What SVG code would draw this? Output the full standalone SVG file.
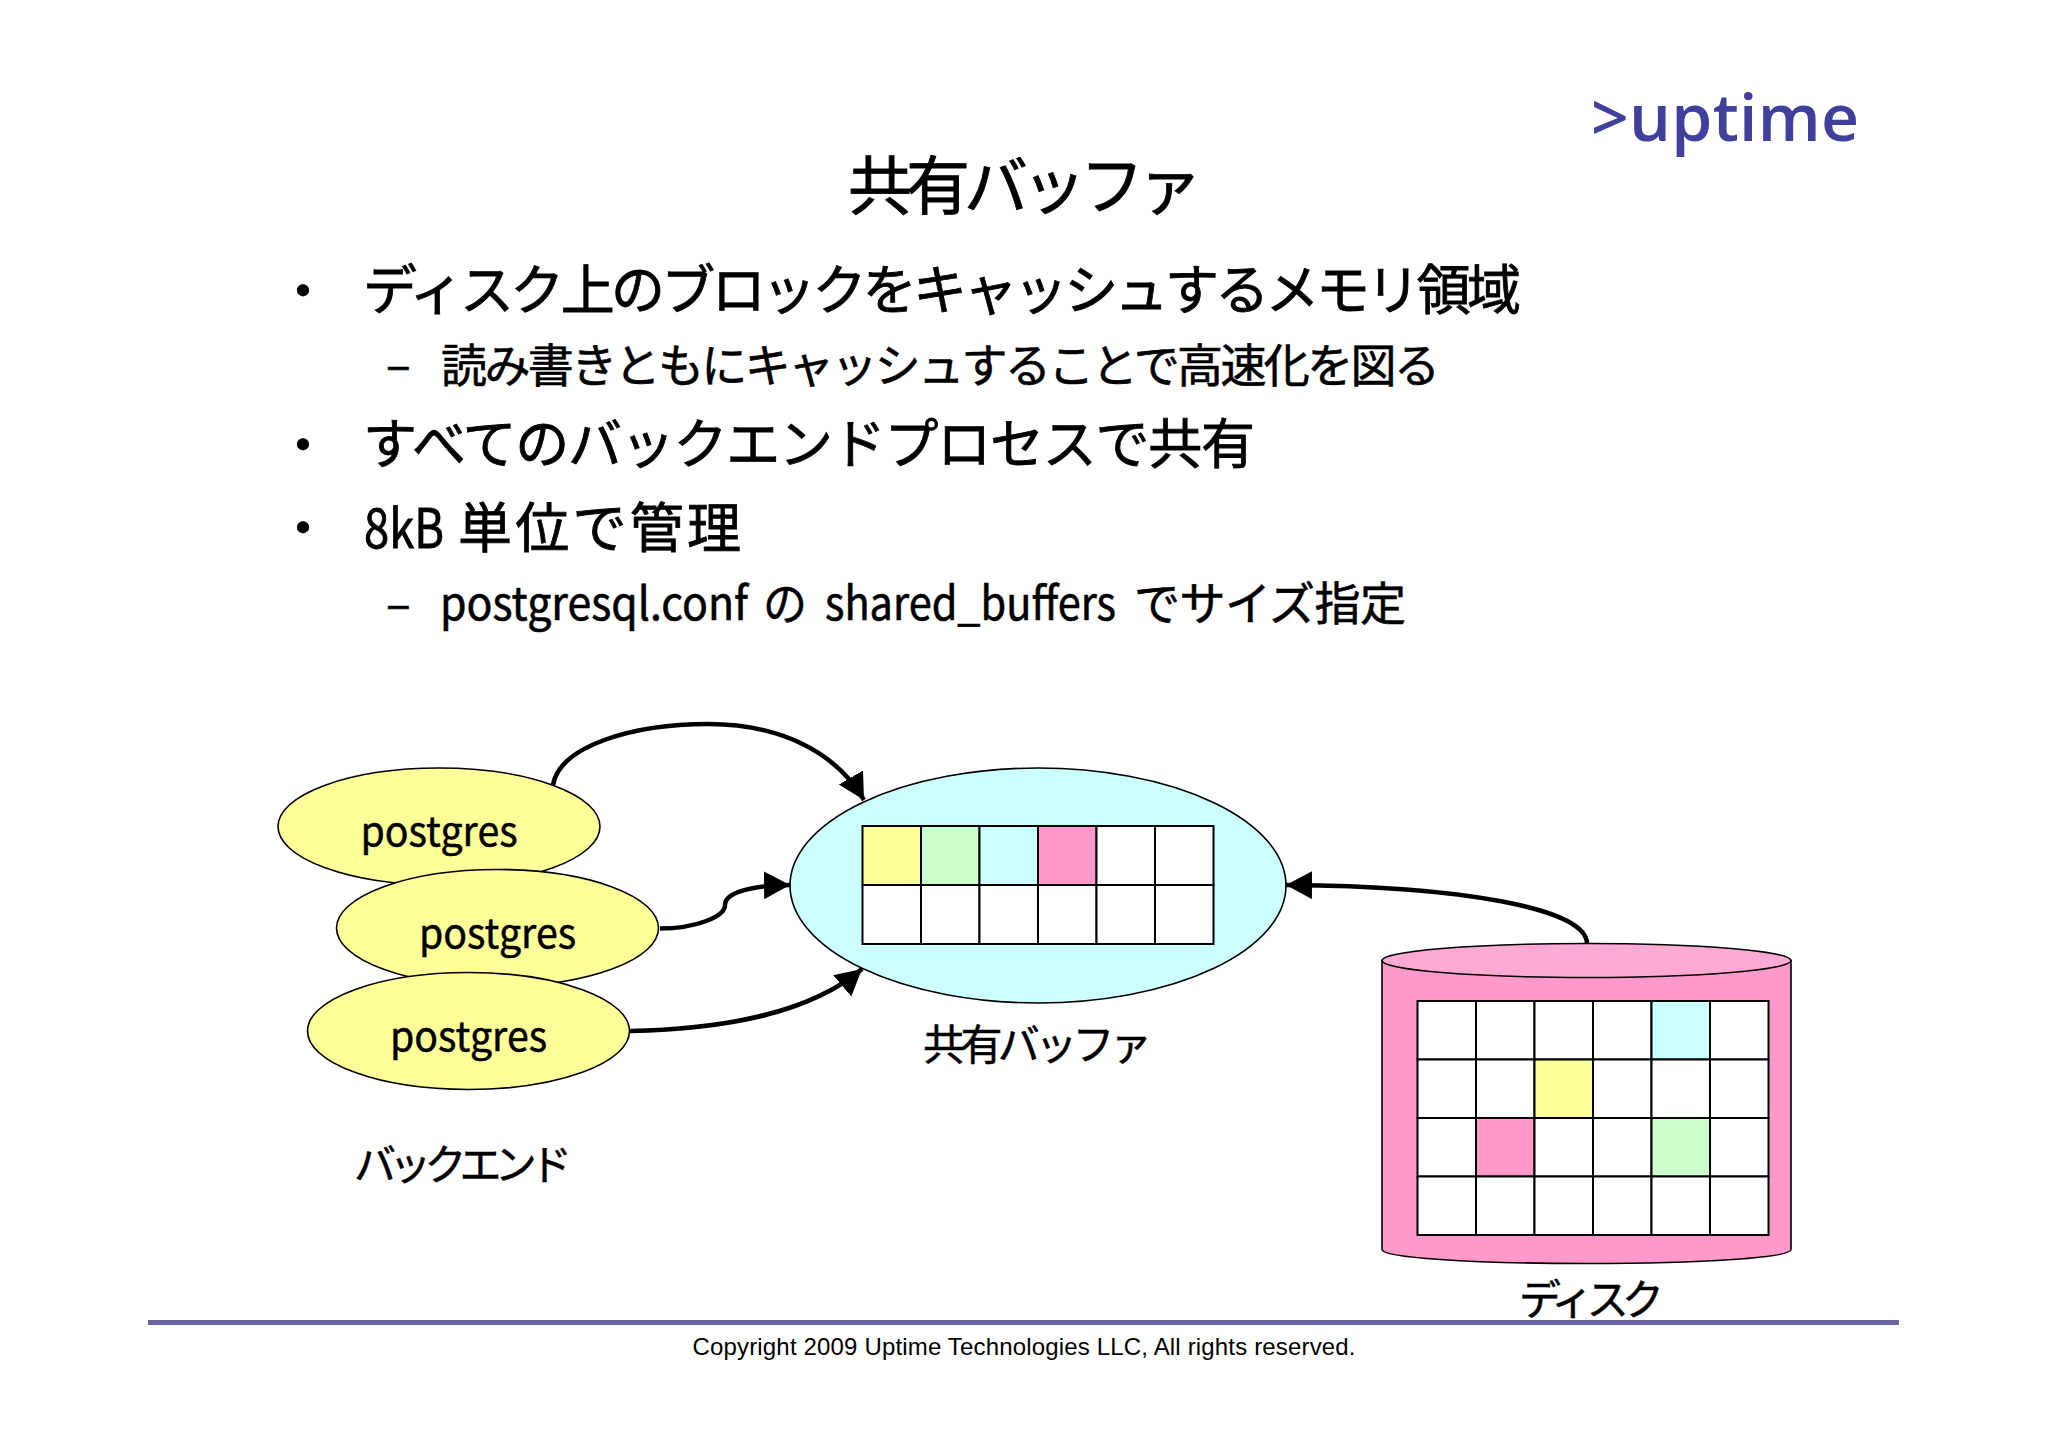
<svg xmlns="http://www.w3.org/2000/svg" width="2048" height="1447" viewBox="0 0 2048 1447">
<style>
text{font-family:"Noto Sans CJK JP","Noto Sans",sans-serif;fill:#000}
.s{stroke:#000;stroke-width:1.6}
.g{fill:#fff;stroke:#000;stroke-width:2}
.c{fill:none;stroke:#000;stroke-width:4.500}
.h1{font-size:54px;stroke:#000;stroke-width:.8}.h2{font-size:46px;stroke:#000;stroke-width:.6}
.l{font-size:41px;stroke:#000;stroke-width:.5}
.m{font-size:42px;stroke:#000;stroke-width:.5}
</style>
<defs>
<marker id="a" markerUnits="userSpaceOnUse" markerWidth="28" markerHeight="30" refX="26" refY="14" orient="auto"><path d="M0 0L26 14L0 28Z" fill="#000"/></marker>
</defs>
<rect width="2048" height="1447" fill="#fff"/>
<text id="logo" x="1591" y="141" font-size="66" font-weight="600" style="font-family:'Open Sans',sans-serif;fill:#3f3f9c" textLength="268">&gt;uptime</text>
<text class="h1" style="font-size:64px" x="848" y="209" textLength="354">共有バッファ</text>
<g id="bullets">
<text class="h1" x="276" y="311">・</text>
<text class="h1" x="363" y="310" textLength="1158">ディスク上のブロックをキャッシュするメモリ領域</text>
<text class="h2" x="386" y="381">–</text>
<text class="h2" x="441" y="382" textLength="999">読み書きともにキャッシュすることで高速化を図る</text>
<text class="h1" x="276" y="465">・</text>
<text class="h1" x="363" y="464" textLength="892">すべてのバックエンドプロセスで共有</text>
<text class="h1" x="276" y="548">・</text>
<text class="h1" x="364" y="548" textLength="80" lengthAdjust="spacingAndGlyphs">8kB</text>
<text class="h1" x="458" y="548" textLength="283">単位で管理</text>
<text class="h2" x="386" y="620">–</text>
<text class="h2" x="440" y="620" textLength="308" lengthAdjust="spacingAndGlyphs">postgresql.conf</text>
<text class="h2" x="763" y="620" textLength="44" lengthAdjust="spacingAndGlyphs">の</text>
<text class="h2" x="825" y="620" textLength="291" lengthAdjust="spacingAndGlyphs">shared_buffers</text>
<text class="h2" x="1134" y="620" textLength="272">でサイズ指定</text>
</g>
<g id="backend-1"><ellipse class="s" cx="439" cy="826.500" rx="161" ry="58.500" fill="#ffff99"/><text class="l" x="439" y="846" text-anchor="middle" textLength="157" lengthAdjust="spacingAndGlyphs">postgres</text></g>
<g id="backend-2"><ellipse class="s" cx="497.500" cy="928" rx="161" ry="58.500" fill="#ffff99"/><text class="l" x="497.500" y="948" text-anchor="middle" textLength="157" lengthAdjust="spacingAndGlyphs">postgres</text></g>
<g id="backend-3"><ellipse class="s" cx="468.500" cy="1031" rx="161" ry="58.500" fill="#ffff99"/><text class="l" x="468.500" y="1051" text-anchor="middle" textLength="157" lengthAdjust="spacingAndGlyphs">postgres</text></g>
<text id="backend-label" class="m" x="354" y="1180" textLength="218">バックエンド</text>
<g id="shared-buffer">
<ellipse class="s" cx="1038" cy="885.500" rx="248" ry="117.500" fill="#ccffff"/>
<g class="g">
<rect x="862.500" y="826" width="58.500" height="59" fill="#ffff99"/><rect x="921" y="826" width="58.500" height="59" fill="#ccffcc"/><rect x="979.500" y="826" width="58.500" height="59" fill="#ccffff"/><rect x="1038" y="826" width="58.500" height="59" fill="#ff99cc"/><rect x="1096.500" y="826" width="58.500" height="59"/><rect x="1155" y="826" width="58.500" height="59"/>
<rect x="862.500" y="885" width="58.500" height="59"/><rect x="921" y="885" width="58.500" height="59"/><rect x="979.500" y="885" width="58.500" height="59"/><rect x="1038" y="885" width="58.500" height="59"/><rect x="1096.500" y="885" width="58.500" height="59"/><rect x="1155" y="885" width="58.500" height="59"/>
</g>
<text class="m" x="923" y="1060" textLength="229">共有バッファ</text>
</g>
<g id="disk">
<path d="M1382 960.500V1249.500C1382 1257.500 1470 1263.500 1586.500 1263.500S1791 1257.500 1791 1249.500V960.500Z" fill="#ff99cc" class="s"/>
<ellipse class="s" cx="1586.500" cy="960.500" rx="204.500" ry="17" fill="#ffaad4"/>
<g class="g">
<rect x="1417.500" y="1001" width="58.500" height="58.500"/><rect x="1476" y="1001" width="58.500" height="58.500"/><rect x="1534.500" y="1001" width="58.500" height="58.500"/><rect x="1593" y="1001" width="58.500" height="58.500"/><rect x="1651.500" y="1001" width="58.500" height="58.500" fill="#ccffff"/><rect x="1710" y="1001" width="58.500" height="58.500"/>
<rect x="1417.500" y="1059.500" width="58.500" height="58.500"/><rect x="1476" y="1059.500" width="58.500" height="58.500"/><rect x="1534.500" y="1059.500" width="58.500" height="58.500" fill="#ffff99"/><rect x="1593" y="1059.500" width="58.500" height="58.500"/><rect x="1651.500" y="1059.500" width="58.500" height="58.500"/><rect x="1710" y="1059.500" width="58.500" height="58.500"/>
<rect x="1417.500" y="1118" width="58.500" height="58.500"/><rect x="1476" y="1118" width="58.500" height="58.500" fill="#ff99cc"/><rect x="1534.500" y="1118" width="58.500" height="58.500"/><rect x="1593" y="1118" width="58.500" height="58.500"/><rect x="1651.500" y="1118" width="58.500" height="58.500" fill="#ccffcc"/><rect x="1710" y="1118" width="58.500" height="58.500"/>
<rect x="1417.500" y="1176.500" width="58.500" height="58.500"/><rect x="1476" y="1176.500" width="58.500" height="58.500"/><rect x="1534.500" y="1176.500" width="58.500" height="58.500"/><rect x="1593" y="1176.500" width="58.500" height="58.500"/><rect x="1651.500" y="1176.500" width="58.500" height="58.500"/><rect x="1710" y="1176.500" width="58.500" height="58.500"/>
</g>
<text class="m" x="1519" y="1315" textLength="145">ディスク</text>
</g>
<g id="connectors">
<path class="c" marker-end="url(#a)" d="M553 785C560 745 635 724 708 724C780 724 836 752 864 800"/>
<path class="c" marker-end="url(#a)" d="M660 928.500C695 928.500 725 917 725 905C725 893 750 885.500 790 885"/>
<path class="c" marker-end="url(#a)" d="M630 1031C720 1029 808 1015 862 969"/>
<path class="c" marker-end="url(#a)" d="M1587 943C1585 908 1460 886 1286 885"/>
</g>
<rect id="rule" x="148" y="1320" width="1751" height="5" fill="#6a64a4"/>
<text id="copyright" x="1024" y="1355" text-anchor="middle" font-size="24" style="font-family:'Liberation Sans',sans-serif" textLength="663">Copyright 2009 Uptime Technologies LLC, All rights reserved.</text>
</svg>
